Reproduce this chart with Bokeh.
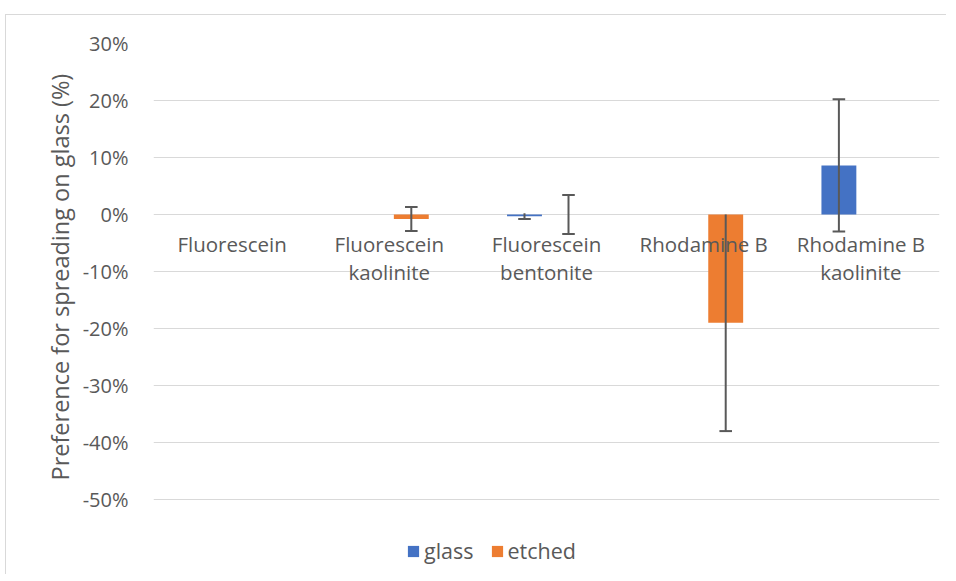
from bokeh.plotting import figure
from bokeh.models import (ColumnDataSource, FactorRange, FixedTicker, NumeralTickFormatter,
                          Legend, LegendItem, Title)
from bokeh.transform import dodge
from bokeh.core.properties import value
from bokeh.embed import file_html
from bokeh.resources import INLINE

categories = ["Fluorescein", "Fluorescein kaolinite", "Fluorescein bentonite",
              "Rhodamine B", "Rhodamine B kaolinite"]
cat_labels = ["Fluorescein", "Fluorescein\nkaolinite", "Fluorescein\nbentonite",
              "Rhodamine B", "Rhodamine B\nkaolinite"]
glass = [0.0, 0.0, -0.003, 0.0, 0.086]
glass_err = [0.0, 0.0, 0.005, 0.0, 0.116]
etched = [0.0, -0.008, 0.0, -0.19, 0.0]
etched_err = [0.0, 0.021, 0.034, 0.19, 0.0]
y_ticks = [-0.5, -0.4, -0.3, -0.2, -0.1, 0.0, 0.1, 0.2, 0.3]
y_title = "Preference for spreading on glass (%)"

FONT = "Open Sans"
GREY = "#595959"
GRID = "#D9D9D9"
BLUE = "#4472C4"
ORANGE = "#ED7D31"
OFF = 0.14
BW = 0.222
CAP = 0.04

p = figure(width=941, height=560, x_range=FactorRange(*categories, range_padding=0),
           y_range=(-0.6158, 0.3), output_backend="svg", toolbar_location=None,
           x_axis_location=None, min_border_left=147, min_border_right=8,
           min_border_top=28, min_border_bottom=10,
           styles={"margin-left": "5px", "margin-top": "14px",
                   "border-top": "1px solid #D9D9D9", "border-left": "1px solid #D9D9D9"})
p.outline_line_color = None
p.xgrid.visible = False
p.ygrid.grid_line_color = GRID
p.ygrid.grid_line_width = 1

yax = p.yaxis[0]
yax.ticker = FixedTicker(ticks=y_ticks)
yax.formatter = NumeralTickFormatter(format="0%")
yax.axis_line_color = None
yax.major_tick_line_color = None
yax.minor_tick_line_color = None
yax.major_label_standoff = 19
yax.major_label_text_font = FONT
yax.major_label_text_font_size = "20px"
yax.major_label_text_color = GREY

# y-axis title, anchored relative to the bottom of the plotted scale
ytitle = Title(text=y_title, align="left", offset=85, standoff=8,
               text_font=FONT, text_font_size="23.5px", text_font_style="normal",
               text_color=GREY)
p.add_layout(ytitle, "left")

src = ColumnDataSource(dict(cat=categories, label=cat_labels, glass=glass, etched=etched,
                            zero=[0.0] * len(categories)))

r_glass = p.vbar(x=dodge("cat", -OFF, range=p.x_range), top="glass", bottom=0, width=BW,
                 source=src, fill_color=BLUE, line_color=None)
r_etched = p.vbar(x=dodge("cat", OFF, range=p.x_range), top="etched", bottom=0, width=BW,
                  source=src, fill_color=ORANGE, line_color=None)

# error bars (caps that fall on the zero axis line are hidden behind it)
def err_source(vals, errs):
    c, lo, hi = [], [], []
    for cat, v, e in zip(categories, vals, errs):
        if e > 0:
            c.append(cat)
            lo.append(v - e)
            hi.append(v + e)
    return ColumnDataSource(dict(cat=c, lo=lo, hi=hi))

def cap_source(es, col):
    d = es.data
    keep = [i for i, yv in enumerate(d[col]) if abs(yv) > 0.003]
    return ColumnDataSource(dict(cat=[d["cat"][i] for i in keep],
                                 y=[d[col][i] for i in keep]))

for vals, errs, off in [(glass, glass_err, -OFF), (etched, etched_err, OFF)]:
    es = err_source(vals, errs)
    p.segment(x0=dodge("cat", off, range=p.x_range), x1=dodge("cat", off, range=p.x_range),
              y0="lo", y1="hi", source=es, line_color=GREY, line_width=2)
    for col in ["lo", "hi"]:
        cs = cap_source(es, col)
        p.segment(x0=dodge("cat", off - CAP, range=p.x_range),
                  x1=dodge("cat", off + CAP, range=p.x_range),
                  y0="y", y1="y", source=cs, line_color=GREY, line_width=2)

# category labels below zero line
p.text(x="cat", y="zero", text="label", source=src, text_align="center",
       text_baseline="top", y_offset=16, text_font=value(FONT), text_font_size="20.5px",
       text_color=GREY, text_line_height=1.0)

legend = Legend(items=[LegendItem(label="glass", renderers=[r_glass]),
                       LegendItem(label="etched", renderers=[r_etched])],
                orientation="horizontal", location=(253, 0),
                glyph_width=14, glyph_height=14, label_text_font=FONT,
                label_text_font_size="21.5px", label_text_color=GREY,
                border_line_color=None, background_fill_alpha=0,
                spacing=16, label_standoff=4, padding=4, margin=0)
p.add_layout(legend, "center")

open("out.html", "w").write(file_html(p, INLINE))
